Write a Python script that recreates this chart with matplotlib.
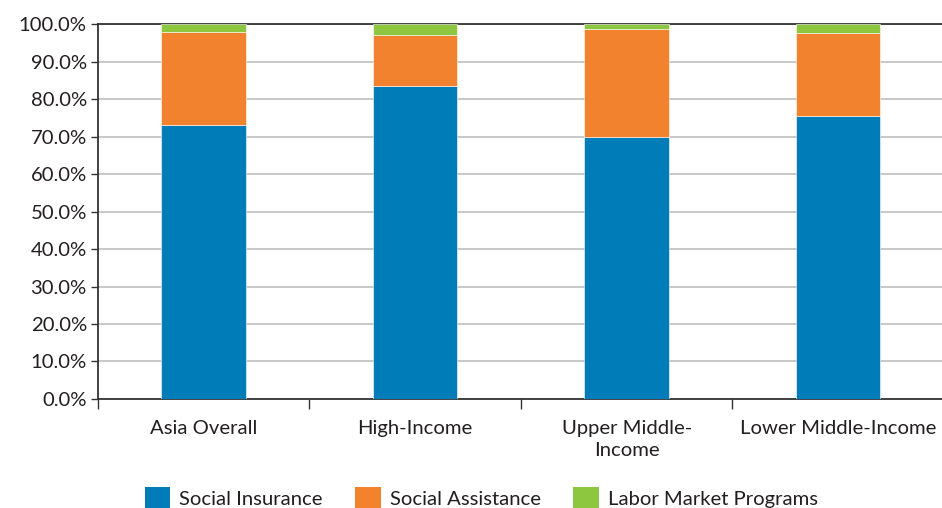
import matplotlib
matplotlib.use("Agg")
import matplotlib.pyplot as plt
from matplotlib.patches import Patch
from matplotlib.ticker import FuncFormatter, MultipleLocator
import numpy as np

plt.rcParams['font.family'] = ['Lato', 'DejaVu Sans']

categories = ["Asia Overall", "High-Income", "Upper Middle-\nIncome", "Lower Middle-Income"]
social_insurance = [73.1, 83.5, 69.8, 75.6]
social_assistance = [24.7, 13.7, 29.0, 21.9]
labor_market = [2.2, 2.8, 1.2, 2.5]
series_names = ["Social Insurance", "Social Assistance", "Labor Market Programs"]
colors = ["#007DB8", "#F2822E", "#8DC63F"]

fs = 14.6

fig = plt.figure(figsize=(9.42, 5.08), dpi=100)
ax = fig.add_axes([0.104, 0.2146, 0.898, 0.738])

x = np.arange(len(categories))
bottom = np.zeros(len(categories))
for vals, col, name in zip([social_insurance, social_assistance, labor_market], colors, series_names):
    ax.bar(x, vals, width=0.4, bottom=bottom, color=col, edgecolor="white",
           linewidth=0.4, label=name, zorder=3)
    bottom += np.array(vals)

ax.set_xlim(-0.5, len(categories) - 0.5)
ax.set_ylim(0, 100)
ax.yaxis.set_major_locator(MultipleLocator(10))
ax.yaxis.set_major_formatter(FuncFormatter(lambda v, p: f"{v:.1f}%"))
ax.grid(axis="y", color="#c8c8c8", linewidth=1.4, zorder=0)
ax.set_axisbelow(True)

ax.set_xticks(x)
ax.set_xticklabels(categories, fontsize=fs, color="#231f20", linespacing=1.35)
ax.set_xticks(np.arange(len(categories) + 1) - 0.5, minor=True)
ax.tick_params(axis="x", which="major", length=0, pad=15)
ax.tick_params(axis="x", which="minor", length=7, width=1, color="#333333")
ax.tick_params(axis="y", length=5, width=1, color="#333333", labelsize=fs,
               labelcolor="#231f20", pad=3)

for side in ["left", "bottom", "top"]:
    ax.spines[side].set_color("#333333")
    ax.spines[side].set_linewidth(1.3)
ax.spines["right"].set_visible(False)

handles = [Patch(facecolor=c, edgecolor="none") for c in colors]
fig.legend(handles, series_names, loc="center", bbox_to_anchor=(0.511, 0.02),
           ncol=3, frameon=False, fontsize=fs, handlelength=1.25, handleheight=1.25,
           handletextpad=0.45, columnspacing=1.6, labelcolor="#231f20")

fig.savefig("out.png", dpi=100)
